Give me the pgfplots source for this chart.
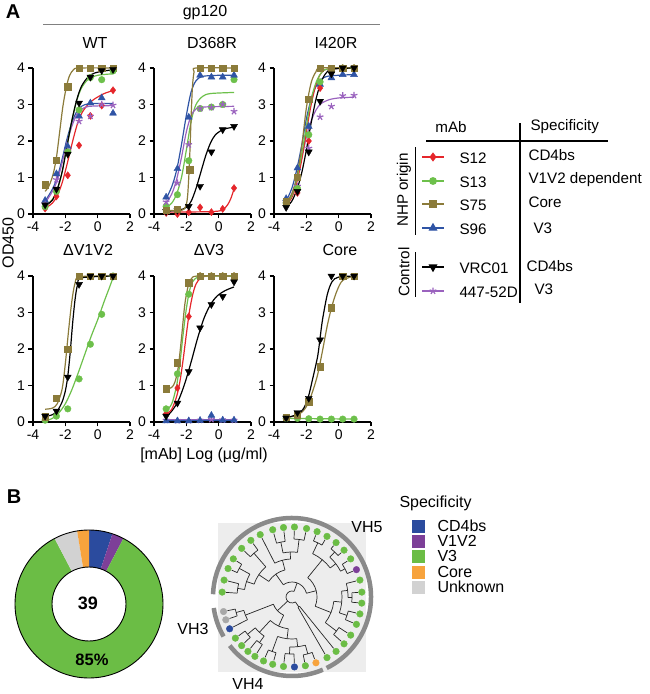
\documentclass[border=0pt]{standalone}
\usepackage{pgfplots}
\pgfplotsset{compat=1.18}
\usepackage{fontspec}
\setmainfont{Liberation Sans}
\definecolor{cR}{HTML}{E5262B}
\definecolor{cG}{HTML}{6DC04B}
\definecolor{cO}{HTML}{8B7B3A}
\definecolor{cB}{HTML}{2F54A5}
\definecolor{cP}{HTML}{9A62BE}
\definecolor{dB}{HTML}{2B4B9E}
\definecolor{dP}{HTML}{7D3F98}
\definecolor{dG}{HTML}{6BBD45}
\definecolor{dO}{HTML}{F7A33D}
\definecolor{dU}{HTML}{D2D2D2}
\definecolor{arcg}{HTML}{8A8A8A}
\newcommand{\fs}{\fontsize{16}{18}\selectfont}
\newcommand{\fl}{\fontsize{15.2}{17}\selectfont}
\newcommand{\tbr}[3]{\draw (#1:#2pt) -- (#1:#3pt);}
\newcommand{\tac}[3]{\draw (#2:#1pt) arc[start angle=#2,end angle=#3,radius=#1pt];}
\pgfplotsset{
 pp/.style={width=97pt,height=146pt,scale only axis,anchor=south west,
  xmin=-4,xmax=2,ymin=0,ymax=4,
  axis x line*=bottom, axis y line*=left,
  xtick={-4,-2,0,2}, ytick={0,1,2,3,4},
  tick align=outside, major tick length=4.5pt,
  axis line style={line width=1.4pt,-},
  tick style={line width=1.4pt,black},
  tick label style={font=\fontsize{14}{14}\selectfont},
  /pgf/number format/assume math mode=true,
  clip=false},
 cv/.style={line width=1.2pt, smooth, no marks},
 mR/.style={cR, only marks, mark=diamond*, mark size=3.6pt},
 mG/.style={cG, only marks, mark=*, mark size=3.3pt},
 mO/.style={cO, only marks, mark=square*, mark size=3.2pt},
 mB/.style={cB, only marks, mark=triangle*, mark size=4pt},
 mK/.style={black, only marks, mark=triangle*, mark size=4pt, mark options={rotate=180}},
 mP/.style={cP, only marks, mark=star, mark size=3.5pt, mark options={line width=1.2pt}},
}
\begin{document}
\begin{tikzpicture}
\useasboundingbox (0,0) rectangle (650pt,694pt);

% ---------- WT ----------
\begin{axis}[pp, at={(33pt,480pt)}]
\addplot[cv,cO] coordinates {(-3.25,0.62)(-3.0,0.78)(-2.75,1.1)(-2.55,1.55)(-2.35,2.25)(-2.15,2.95)(-1.95,3.45)(-1.75,3.78)(-1.5,3.95)(-1.15,4)(0.95,4)};
\addplot[cv,cR] coordinates {(-3.25,0.15)(-2.8,0.3)(-2.5,0.5)(-2.2,0.85)(-1.9,1.35)(-1.6,1.9)(-1.3,2.4)(-1.0,2.75)(-0.6,3.0)(-0.2,3.15)(0.4,3.3)(0.95,3.38)};
\addplot[cv,cB] coordinates {(-3.25,0.35)(-2.8,0.68)(-2.5,1.0)(-2.2,1.5)(-1.9,2.05)(-1.6,2.5)(-1.3,2.8)(-1.0,2.95)(-0.5,3.02)(0.95,3.03)};
\addplot[cv,cP] coordinates {(-3.25,0.3)(-2.8,0.62)(-2.5,0.92)(-2.2,1.4)(-1.9,1.95)(-1.6,2.4)(-1.3,2.72)(-1.0,2.87)(-0.5,2.95)(0.95,2.97)};
\addplot[cv,cG] coordinates {(-3.25,0.2)(-2.8,0.4)(-2.5,0.65)(-2.2,1.15)(-1.9,1.85)(-1.6,2.55)(-1.3,3.1)(-1.0,3.45)(-0.6,3.68)(0,3.8)(0.95,3.84)};
\addplot[cv,black] coordinates {(-3.25,0.22)(-2.8,0.38)(-2.5,0.68)(-2.2,1.15)(-1.9,1.85)(-1.6,2.55)(-1.3,3.12)(-1.0,3.5)(-0.6,3.75)(-0.2,3.86)(0.4,3.92)(0.95,3.95)};
\addplot[mO] coordinates {(-3.25,0.8)(-2.55,1.47)(-1.85,3.49)(-1.15,4)(-0.45,4)(0.25,4)(0.95,4)};
\addplot[mR] coordinates {(-3.25,0.15)(-2.55,0.48)(-1.85,1.06)(-1.15,1.88)(-0.45,2.69)(0.25,2.97)(0.95,3.39)};
\addplot[mB] coordinates {(-3.25,0.37)(-2.55,1.1)(-1.85,1.85)(-1.15,2.68)(-0.45,3.04)(0.25,3.18)(0.95,2.76)};
\addplot[mP] coordinates {(-3.25,0.27)(-2.55,0.94)(-1.85,1.72)(-1.15,2.54)(-0.45,2.68)(0.25,3.0)(0.95,2.98)};
\addplot[mG] coordinates {(-3.25,0.2)(-2.55,0.62)(-1.85,1.7)(-1.15,2.85)(-0.45,3.74)(0.25,3.68)(0.95,3.92)};
\addplot[mK] coordinates {(-3.25,0.25)(-2.55,0.68)(-1.85,1.64)(-1.15,3.04)(-0.45,3.75)(0.25,3.93)(0.95,3.96)};
\end{axis}

% ---------- D368R ----------
\begin{axis}[pp, at={(154pt,480pt)}]
\addplot[cv,cR] coordinates {(-3.25,0.05)(-1,0.06)(0,0.08)(0.3,0.13)(0.55,0.25)(0.75,0.42)(0.95,0.68)};
\addplot[cv,cG] coordinates {(-3.25,0.18)(-2.9,0.3)(-2.6,0.55)(-2.3,1.0)(-2.0,1.75)(-1.7,2.55)(-1.4,3.0)(-1.0,3.22)(-0.5,3.3)(0.95,3.33)};
\addplot[cv,cP] coordinates {(-3.25,0.3)(-2.9,0.55)(-2.6,0.95)(-2.3,1.55)(-2.0,2.25)(-1.7,2.7)(-1.4,2.88)(-1.0,2.93)(0.95,2.95)};
\addplot[cv,cB] coordinates {(-3.25,0.42)(-2.9,0.75)(-2.6,1.2)(-2.3,1.9)(-2.0,2.7)(-1.7,3.35)(-1.4,3.65)(-1.0,3.77)(0,3.8)(0.95,3.8)};
\addplot[cv,black] coordinates {(-3.25,0.08)(-2.5,0.1)(-2.0,0.18)(-1.7,0.35)(-1.4,0.7)(-1.1,1.15)(-0.8,1.6)(-0.5,1.95)(-0.2,2.17)(0.3,2.32)(0.95,2.38)};
\addplot[cv,cO] coordinates {(-3.25,0.1)(-2.3,0.1)(-2.05,0.2)(-1.93,0.45)(-1.85,1.0)(-1.78,1.7)(-1.7,2.7)(-1.62,3.5)(-1.52,3.9)(-1.4,4.0)(0.95,4)};
\addplot[mR] coordinates {(-3.25,0.03)(-2.55,0.0)(-1.85,0.05)(-1.15,0.18)(-0.45,0.05)(0.25,0.14)(0.95,0.71)};
\addplot[mG] coordinates {(-3.25,0.21)(-2.55,0.53)(-1.85,1.46)(-1.15,2.89)(-0.45,2.93)(0.25,3.0)(0.95,3.68)};
\addplot[mP] coordinates {(-3.25,0.33)(-2.55,0.85)(-1.85,1.9)(-1.15,2.89)(-0.45,2.92)(0.25,3.0)(0.95,2.81)};
\addplot[mB] coordinates {(-3.25,0.46)(-2.55,1.24)(-1.85,2.65)(-1.15,3.8)(-0.45,3.75)(0.25,3.75)(0.95,3.8)};
\addplot[mK] coordinates {(-3.25,0.07)(-2.55,0.1)(-1.85,0.21)(-1.15,0.76)(-0.45,1.70)(0.25,2.31)(0.95,2.40)};
\addplot[mO] coordinates {(-3.25,0.1)(-2.55,0.13)(-1.8,1.21)(-1.15,4)(-0.45,4)(0.25,4)(0.95,4)};
\end{axis}

% ---------- I420R ----------
\begin{axis}[pp, at={(274pt,480pt)}]
\addplot[cv,cP] coordinates {(-3.25,0.28)(-2.9,0.55)(-2.6,0.95)(-2.3,1.5)(-2.0,2.1)(-1.7,2.55)(-1.4,2.85)(-1.1,3.02)(-0.6,3.13)(0,3.18)(0.95,3.2)};
\addplot[cv,cB] coordinates {(-3.25,0.35)(-2.9,0.7)(-2.6,1.2)(-2.3,1.85)(-2.0,2.6)(-1.7,3.15)(-1.4,3.5)(-1.1,3.68)(-0.6,3.78)(0.95,3.82)};
\addplot[cv,cR] coordinates {(-3.25,0.25)(-2.9,0.45)(-2.6,0.85)(-2.3,1.45)(-2.0,2.25)(-1.7,3.0)(-1.4,3.55)(-1.1,3.85)(-0.7,3.97)(0.95,4)};
\addplot[cv,cG] coordinates {(-3.25,0.28)(-2.9,0.5)(-2.6,0.95)(-2.3,1.6)(-2.0,2.4)(-1.7,3.15)(-1.4,3.6)(-1.1,3.85)(-0.7,3.97)(0.95,4)};
\addplot[cv,cO] coordinates {(-3.25,0.3)(-2.9,0.55)(-2.6,1.0)(-2.3,1.8)(-2.0,2.9)(-1.7,3.6)(-1.4,3.9)(-1.1,4)(0.95,4)};
\addplot[cv,black] coordinates {(-3.25,0.18)(-2.9,0.35)(-2.6,0.65)(-2.3,1.1)(-2.0,1.75)(-1.7,2.5)(-1.4,3.15)(-1.1,3.6)(-0.8,3.85)(-0.4,3.97)(0.95,4)};
\addplot[mP] coordinates {(-3.25,0.3)(-2.55,0.76)(-1.85,1.8)(-1.15,2.66)(-0.45,2.95)(0.25,3.24)(0.95,3.25)};
\addplot[mB] coordinates {(-3.25,0.42)(-2.55,1.26)(-1.85,2.4)(-1.15,3.55)(-0.45,3.73)(0.25,3.82)(0.95,3.82)};
\addplot[mR] coordinates {(-3.25,0.25)(-2.55,0.58)(-1.85,2.0)(-1.15,3.45)(-0.45,3.95)(0.25,4)(0.95,4)};
\addplot[mG] coordinates {(-3.25,0.3)(-2.55,0.7)(-1.85,2.17)(-1.15,3.62)(-0.45,3.95)(0.25,4)(0.95,4)};
\addplot[mO] coordinates {(-3.25,0.35)(-2.55,1.0)(-1.85,3.15)(-1.15,4)(-0.45,4)(0.25,4)(0.95,4)};
\addplot[mK] coordinates {(-3.25,0.18)(-2.55,0.62)(-1.85,1.70)(-1.15,3.09)(-0.45,3.84)(0.25,4)(0.95,4)};
\end{axis}

% ---------- dV1V2 ----------
\begin{axis}[pp, at={(33pt,272pt)}]
\addplot[cv,cG] coordinates {(-3.25,0.03)(-2.8,0.1)(-2.4,0.25)(-2.0,0.5)(-1.6,0.88)(-1.2,1.35)(-0.8,1.85)(-0.4,2.35)(0,2.8)(0.4,3.3)(0.7,3.65)(0.95,3.95)};
\addplot[cv,cO] coordinates {(-3.25,0.35)(-2.8,0.38)(-2.5,0.5)(-2.2,0.9)(-2.0,1.6)(-1.8,2.5)(-1.6,3.3)(-1.4,3.8)(-1.1,3.98)(0.95,4)};
\addplot[cv,black] coordinates {(-3.25,0.15)(-2.8,0.2)(-2.5,0.3)(-2.2,0.55)(-2.0,0.85)(-1.85,1.25)(-1.7,1.9)(-1.55,2.7)(-1.4,3.35)(-1.25,3.75)(-1.0,3.95)(0.95,4)};
\addplot[mG] coordinates {(-3.25,0.05)(-2.55,0.16)(-1.85,0.36)(-1.15,1.18)(-0.45,2.13)(0.25,2.95)(0.95,4.0)};
\addplot[mO] coordinates {(-3.25,0.14)(-2.55,0.66)(-1.85,2.0)(-1.15,4)(-0.45,4)(0.25,4)(0.95,4)};
\addplot[mK] coordinates {(-3.25,0.16)(-2.55,0.3)(-1.85,1.23)(-1.15,3.77)(-0.45,4)(0.25,4)(0.95,4)};
\end{axis}

% ---------- dV3 ----------
\begin{axis}[pp, at={(154pt,272pt)}]
\addplot[line width=1.2pt,cP] coordinates {(-3.25,0.06)(0.95,0.06)};
\addplot[line width=1.2pt,cB] coordinates {(-3.25,0.04)(0.95,0.05)};
\addplot[cv,black] coordinates {(-3.25,0.15)(-2.9,0.3)(-2.5,0.58)(-2.1,1.05)(-1.7,1.65)(-1.3,2.3)(-0.9,2.85)(-0.5,3.22)(-0.1,3.45)(0.4,3.6)(0.95,3.7)};
\addplot[cv,cR] coordinates {(-3.25,0.22)(-2.9,0.35)(-2.6,0.7)(-2.4,1.1)(-2.2,1.7)(-2.0,2.4)(-1.8,3.05)(-1.6,3.5)(-1.4,3.78)(-1.1,3.95)(-0.6,4)(0.95,4)};
\addplot[cv,cG] coordinates {(-3.25,0.3)(-2.9,0.5)(-2.6,1.0)(-2.4,1.6)(-2.2,2.4)(-2.0,3.1)(-1.8,3.6)(-1.6,3.85)(-1.3,3.97)(-0.8,4)(0.95,4)};
\addplot[cv,cO] coordinates {(-3.25,0.9)(-2.9,0.95)(-2.7,1.1)(-2.5,1.5)(-2.3,2.3)(-2.1,3.2)(-1.9,3.7)(-1.7,3.92)(-1.3,4)(0.95,4)};
\addplot[mP] coordinates {(-3.25,0.05)(-2.55,0.04)(-1.85,0.04)(-1.15,0.05)(-0.45,0.07)(0.25,0.06)(0.95,0.05)};
\addplot[mB] coordinates {(-3.25,0.03)(-2.55,0.03)(-1.85,0.03)(-1.15,0.04)(-0.45,0.18)(0.25,0.05)(0.95,0.05)};
\addplot[mR] coordinates {(-3.25,0.23)(-2.55,0.93)(-1.85,2.89)(-1.15,4)(-0.45,4)(0.25,4)(0.95,4)};
\addplot[mG] coordinates {(-3.25,0.36)(-2.55,1.32)(-1.85,3.5)(-1.15,4)(-0.45,4)(0.25,4)(0.95,4)};
\addplot[mO] coordinates {(-3.25,0.91)(-2.55,1.62)(-1.85,3.82)(-1.15,4)(-0.45,4)(0.25,4)(0.95,4)};
\addplot[mK] coordinates {(-3.25,0.16)(-2.55,0.52)(-1.85,1.38)(-1.15,2.58)(-0.45,3.22)(0.25,3.44)(0.95,3.84)};
\end{axis}

% ---------- Core ----------
\begin{axis}[pp, at={(274pt,272pt)}]
\addplot[line width=1.2pt,cG] coordinates {(-3.25,0.1)(0.95,0.08)};
\addplot[cv,cO] coordinates {(-3.25,0.12)(-2.6,0.18)(-2.2,0.3)(-1.9,0.5)(-1.6,0.85)(-1.3,1.3)(-1.0,1.95)(-0.7,2.65)(-0.4,3.2)(-0.1,3.6)(0.25,3.88)(0.95,4)};
\addplot[cv,black] coordinates {(-3.25,0.12)(-2.6,0.2)(-2.2,0.35)(-1.9,0.65)(-1.6,1.2)(-1.3,1.8)(-1.15,2.3)(-1.0,2.8)(-0.7,3.5)(-0.4,3.85)(0,3.97)(0.95,4)};
\addplot[mG] coordinates {(-3.25,0.1)(-2.55,0.1)(-1.85,0.09)(-1.15,0.08)(-0.45,0.08)(0.25,0.08)(0.95,0.08)};
\addplot[mO] coordinates {(-3.25,0.13)(-2.55,0.2)(-1.85,0.56)(-1.15,1.51)(-0.45,3.13)(0.25,4)(0.95,4)};
\addplot[mK] coordinates {(-3.25,0.11)(-2.55,0.26)(-1.85,0.65)(-1.15,2.25)(-0.45,4)(0.25,4)(0.95,4)};
\end{axis}

% ---------- donut: counts CD4bs 2, V1V2 1, V3 33, Unknown 2, Core 1 (of 39) ----------
\begin{axis}[at={(89pt,90pt)},anchor=center,width=160pt,height=160pt,scale only axis,
 xmin=-80,xmax=80,ymin=-80,ymax=80,hide axis,clip=false]
\begin{scope}[shift={(axis cs:0,0)}]
\fill[dB] (90:74pt) arc[start angle=90,end angle=71.538,radius=74pt] -- (71.538:37pt) arc[start angle=71.538,end angle=90,radius=37pt] -- cycle;
\fill[dP] (71.538:74pt) arc[start angle=71.538,end angle=62.308,radius=74pt] -- (62.308:37pt) arc[start angle=62.308,end angle=71.538,radius=37pt] -- cycle;
\fill[dG] (62.308:74pt) arc[start angle=62.308,end angle=-242.308,radius=74pt] -- (-242.308:37pt) arc[start angle=-242.308,end angle=62.308,radius=37pt] -- cycle;
\fill[dU] (-242.308:74pt) arc[start angle=-242.308,end angle=-260.769,radius=74pt] -- (-260.769:37pt) arc[start angle=-260.769,end angle=-242.308,radius=37pt] -- cycle;
\fill[dO] (-260.769:74pt) arc[start angle=-260.769,end angle=-270,radius=74pt] -- (-270:37pt) arc[start angle=-270,end angle=-260.769,radius=37pt] -- cycle;
\draw[line width=0.9pt] (0pt,0pt) circle[radius=74pt];
\draw[line width=0.9pt] (0pt,0pt) circle[radius=37pt];
\end{scope}
\end{axis}

% ---------- tree ----------
\begin{axis}[at={(292pt,97pt)},anchor=center,width=160pt,height=160pt,scale only axis,
 xmin=-80,xmax=80,ymin=-80,ymax=80,hide axis,clip=false]
\fill[black!7] (axis cs:-74,-75) rectangle (axis cs:74,74);
\begin{scope}[shift={(axis cs:0,0)}]
\begin{scope}[line width=4.5pt, arcg]
\tac{79}{-64}{178}
\tac{79}{188}{210}
\tac{79}{218}{293}
\end{scope}
\begin{scope}[line width=0.7pt, black!85]
\tbr{-60}{66}{12}\tbr{-51}{66}{12}\tac{12}{-60}{-51}\tbr{304.5}{12}{6}
\tbr{-42}{66}{56}\tbr{-33}{66}{56}\tac{56}{-42}{-33}\tbr{-37.5}{56}{42}
\tbr{-23}{66}{58}\tbr{-14}{66}{58}\tac{58}{-23}{-14}\tbr{-18.5}{58}{50}
\tbr{-5}{66}{60}\tbr{4}{66}{60}\tac{60}{-5}{4}\tbr{-0.5}{60}{56}
\tbr{14}{66}{56}\tac{56}{-0.5}{14}\tbr{6.75}{56}{50}
\tac{50}{-18.5}{6.75}\tbr{-5.9}{50}{42}
\tac{42}{-37.5}{-5.9}\tbr{-21.7}{42}{25}
\tbr{23}{66}{60}\tbr{33}{66}{60}\tac{60}{23}{33}\tbr{28}{60}{55}
\tbr{42}{66}{62}\tbr{51}{66}{62}\tac{62}{42}{51}\tbr{46.5}{62}{55}
\tac{55}{28}{46.5}\tbr{37.25}{55}{48}
\tbr{60}{66}{60}\tbr{69}{66}{60}\tac{60}{60}{69}\tbr{64.5}{60}{48}
\tac{48}{37.25}{64.5}\tbr{50.9}{48}{25}
\tac{25}{-21.7}{50.9}\tbr{14.6}{25}{15}
\tbr{78}{66}{58}\tbr{88}{66}{58}\tac{58}{78}{88}\tbr{83}{58}{45}
\tbr{97}{66}{56}\tbr{106}{66}{56}\tac{56}{97}{106}\tbr{101.5}{56}{45}
\tac{45}{83}{101.5}\tbr{92.25}{45}{38}
\tbr{117}{66}{38}\tac{38}{92.25}{117}\tbr{104.6}{38}{28}
\tbr{126}{66}{58}\tbr{136}{66}{58}\tac{58}{126}{136}\tbr{131}{58}{40}
\tbr{147}{66}{60}\tbr{156}{66}{60}\tac{60}{147}{156}\tbr{151.5}{60}{48}
\tbr{166}{66}{55}\tbr{176}{66}{55}\tac{55}{166}{176}\tbr{171}{55}{48}
\tac{48}{151.5}{171}\tbr{161.25}{48}{40}
\tac{40}{131}{161.25}\tbr{146.1}{40}{28}
\tac{28}{104.6}{146.1}\tbr{125.4}{28}{15}
\tac{15}{14.6}{125.4}\tbr{70}{15}{6}
\tbr{192}{66}{58}\tbr{199}{66}{58}\tac{58}{192}{199}\tbr{195.5}{58}{50}
\tbr{207}{66}{50}\tac{50}{195.5}{207}\tbr{201.25}{50}{20}
\tbr{216}{66}{58}\tbr{224}{66}{58}\tac{58}{216}{224}\tbr{220}{58}{48}
\tbr{231}{66}{56}\tbr{238}{66}{56}\tac{56}{231}{238}\tbr{234.5}{56}{48}
\tac{48}{220}{234.5}\tbr{227.25}{48}{32}
\tbr{246}{66}{58}\tbr{254}{66}{58}\tac{58}{246}{254}\tbr{250}{58}{42}
\tbr{263}{66}{57}\tbr{272}{66}{57}\tac{57}{263}{272}\tbr{267.5}{57}{50}
\tbr{281}{66}{59}\tbr{290}{66}{59}\tac{59}{281}{290}\tbr{285.5}{59}{50}
\tac{50}{267.5}{285.5}\tbr{276.5}{50}{42}
\tac{42}{250}{276.5}\tbr{263.25}{42}{32}
\tac{32}{227.25}{263.25}\tbr{245.25}{32}{20}
\tac{20}{201.25}{245.25}\tbr{223.25}{20}{6}
\tac{6}{70}{304.5}
\end{scope}
\end{scope}
\addplot[only marks, mark=*, mark size=3.3pt, dG, data cs=polar] coordinates {(-60,70)(-51,70)(-42,70)(-33,70)(-23,70)(-14,70)(-5,70)(4,70)(14,70)(33,70)(42,70)(51,70)(60,70)(69,70)(78,70)(88,70)(97,70)(106,70)(117,70)(126,70)(136,70)(147,70)(156,70)(166,70)(176,70)(216,70)(224,70)(231,70)(238,70)(246,70)(254,70)(263,70)(281,70)};
\addplot[only marks, mark=*, mark size=3.3pt, dP, data cs=polar] coordinates {(23,70)};
\addplot[only marks, mark=*, mark size=3.3pt, dU!80!black, data cs=polar] coordinates {(192,70)(199,70)};
\addplot[only marks, mark=*, mark size=3.3pt, dB, data cs=polar] coordinates {(207,70)(272,70)};
\addplot[only marks, mark=*, mark size=3.3pt, dO, data cs=polar] coordinates {(290,70)};
\end{axis}

% ---------- canvas (pixel coordinates), drawn last ----------
\begin{axis}[at={(0pt,0pt)},anchor=south west,width=650pt,height=694pt,scale only axis,
 xmin=0,xmax=650,ymin=0,ymax=694,y dir=reverse,hide axis,clip=false]
\node[font=\fontsize{20}{20}\selectfont\bfseries] at (13,12) {A};
\node[font=\fs] at (205,13) {gp120};
\draw[gray, line width=0.9pt] (43,24.5) -- (380,24.5);
\node[font=\fs] at (95,43) {WT};
\node[font=\fs] at (212,43) {D368R};
\node[font=\fs] at (336,43) {I420R};
\node[font=\fs] at (88,250) {ΔV1V2};
\node[font=\fs] at (209,250) {ΔV3};
\node[font=\fs] at (340,250) {Core};
\node[font=\fs, rotate=90] at (8,243) {OD450};
\node[font=\fs] at (204,455) {[mAb] Log (μg/ml)};
\node[font=\fl] at (451,127) {mAb};
\node[font=\fl, anchor=west] at (527,127) {Specificity};
\draw[line width=2pt] (426,141) -- (608,141);
\draw[line width=2pt] (520,123) -- (520,303);
\draw[line width=0.9pt] (415,147) -- (415,235);
\node[font=\fl, rotate=90] at (404,190) {NHP origin};
\draw[line width=0.9pt] (415,252) -- (415,297);
\node[font=\fl, rotate=90] at (404,272) {Control};
\addplot[cR, line width=1.2pt, mark=diamond*, mark size=3.6pt, mark indices={2}] coordinates {(422,157)(433,157)(444,157)};
\addplot[cG, line width=1.2pt, mark=*, mark size=3.3pt, mark indices={2}] coordinates {(422,181)(433,181)(444,181)};
\addplot[cO, line width=1.2pt, mark=square*, mark size=3.2pt, mark indices={2}] coordinates {(422,204)(433,204)(444,204)};
\addplot[cB, line width=1.2pt, mark=triangle*, mark size=4pt, mark indices={2}] coordinates {(422,228)(433,228)(444,228)};
\addplot[black, line width=1.2pt, mark=triangle*, mark size=4pt, mark options={rotate=180}, mark indices={2}] coordinates {(422,267)(433,267)(444,267)};
\addplot[cP, line width=1.2pt, mark=star, mark size=3.5pt, mark indices={2}] coordinates {(422,291)(433,291)(444,291)};
\node[font=\fl, anchor=west] at (456,158) {S12};
\node[font=\fl, anchor=west] at (456,182) {S13};
\node[font=\fl, anchor=west] at (456,205) {S75};
\node[font=\fl, anchor=west] at (456,229) {S96};
\node[font=\fl, anchor=west] at (456,268) {VRC01};
\node[font=\fl, anchor=west] at (456,292) {447-52D};
\node[font=\fl, anchor=west] at (525,155) {CD4bs};
\node[font=\fl, anchor=west] at (525,180) {V1V2 dependent};
\node[font=\fl, anchor=west] at (525,202) {Core};
\node[font=\fl, anchor=west] at (530,228) {V3};
\node[font=\fl, anchor=west] at (523,266) {CD4bs};
\node[font=\fl, anchor=west] at (531,289) {V3};
\node[font=\fontsize{20}{20}\selectfont\bfseries] at (14,497) {B};
\node[font=\fontsize{18}{18}\selectfont\bfseries] at (88,603) {39};
\node[font=\fontsize{16.5}{18}\selectfont\bfseries] at (92,660) {85\%};
\node[font=\fs, anchor=west] at (396,503) {Specificity};
\addplot[only marks, mark=square*, mark size=6pt, dB] coordinates {(418.5,526)};
\addplot[only marks, mark=square*, mark size=6pt, dP] coordinates {(418.5,541)};
\addplot[only marks, mark=square*, mark size=6pt, dG] coordinates {(418.5,556)};
\addplot[only marks, mark=square*, mark size=6pt, dO] coordinates {(418.5,572)};
\addplot[only marks, mark=square*, mark size=6pt, dU] coordinates {(418.5,587)};
\node[font=\fs, anchor=west] at (434,526) {CD4bs};
\node[font=\fs, anchor=west] at (434,541) {V1V2};
\node[font=\fs, anchor=west] at (434,556) {V3};
\node[font=\fs, anchor=west] at (434,572) {Core};
\node[font=\fs, anchor=west] at (434,587) {Unknown};
\node[font=\fs] at (367,527) {VH5};
\node[font=\fs] at (193,629) {VH3};
\node[font=\fs] at (248,684) {VH4};
\end{axis}
\end{tikzpicture}
\end{document}
